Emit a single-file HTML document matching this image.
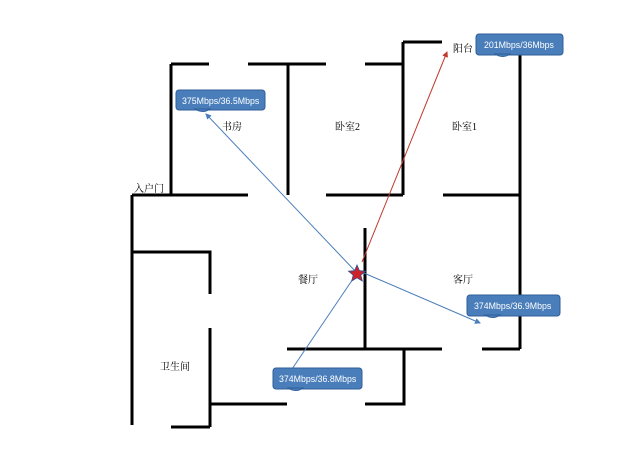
<!DOCTYPE html>
<html><head><meta charset="utf-8"><style>
body{margin:0;width:640px;height:462px;background:#fff;overflow:hidden}
svg{display:block}
.w{stroke:#000;stroke-width:3;fill:none}
.t{font-family:"Liberation Serif","Noto Serif CJK SC",serif;font-size:10px;fill:#000}
.b{fill:#4a7ebb;stroke:#2f5f99;stroke-width:1}
.bt{font-family:"Liberation Sans",sans-serif;font-size:8.8px;fill:#fff}
</style></head><body>
<svg width="640" height="462" viewBox="0 0 640 462">
<defs>
<marker id="ab" markerWidth="6" markerHeight="6" refX="5" refY="3" orient="auto"><path d="M0,0L6,3L0,6z" fill="#4a7ebb"/></marker>
<marker id="ar" markerWidth="6" markerHeight="6" refX="5" refY="3" orient="auto"><path d="M0,0L6,3L0,6z" fill="#c0392b"/></marker>
</defs>
<g class="w">
<path d="M171,64H209M248,64H326M365,64H403"/>
<path d="M171,64V195M288,64V195M403,42V195M403,42H442"/>
<path d="M520,55V349"/>
<path d="M132,195H248M326,195H403M443,195H520"/>
<path d="M132,195V425"/>
<path d="M132,252H210V294M210,328V427M171,427H210"/>
<path d="M210,404H287M365,404H404V349"/>
<path d="M287,349H442M482,349H520"/>
<path d="M365,228V349"/>
</g>
<line x1="357" y1="273" x2="206" y2="114" stroke="#4a7ebb" stroke-width="1" marker-end="url(#ab)"/>
<line x1="362" y1="262" x2="447" y2="52" stroke="#c0392b" stroke-width="1" marker-end="url(#ar)"/>
<line x1="357" y1="270" x2="480" y2="323" stroke="#4a7ebb" stroke-width="1" marker-end="url(#ab)"/>
<line x1="357" y1="273" x2="290" y2="372" stroke="#4a7ebb" stroke-width="1"/>
<polygon points="357,265 359.4,270.7 365.5,271.2 360.8,275.1 362.3,281 357,277.8 351.7,281 353.2,275.1 348.5,271.2 354.6,270.7" fill="#d0202a" stroke="#2f4f8f" stroke-width="0.8"/>
<text class="t" x="222" y="130">书房</text>
<text class="t" x="335" y="130">卧室2</text>
<text class="t" x="452" y="130">卧室1</text>
<text class="t" x="453" y="52">阳台</text>
<text class="t" x="134" y="192">入户门</text>
<text class="t" x="298" y="283">餐厅</text>
<text class="t" x="453" y="283">客厅</text>
<text class="t" x="160" y="370">卫生间</text>
<rect class="b" x="176" y="90" width="89" height="20" rx="3"/><path class="b" d="M195,109Q203,114 210,109Z" stroke="none"/>
<text class="bt" x="182" y="104">375Mbps/36.5Mbps</text>
<rect class="b" x="476" y="34" width="87" height="21" rx="3"/><path class="b" d="M495,54Q503,59 510,54Z" stroke="none"/>
<text class="bt" x="484" y="48">201Mbps/36Mbps</text>
<rect class="b" x="467" y="295" width="93" height="21" rx="3"/><path class="b" d="M485,315Q493,320 500,315Z" stroke="none"/>
<text class="bt" x="474" y="309">374Mbps/36.9Mbps</text>
<rect class="b" x="273" y="368" width="89" height="21" rx="3"/><path class="b" d="M288,388Q296,393 303,388Z" stroke="none"/>
<text class="bt" x="279" y="382">374Mbps/36.8Mbps</text>
</svg>
</body></html>
